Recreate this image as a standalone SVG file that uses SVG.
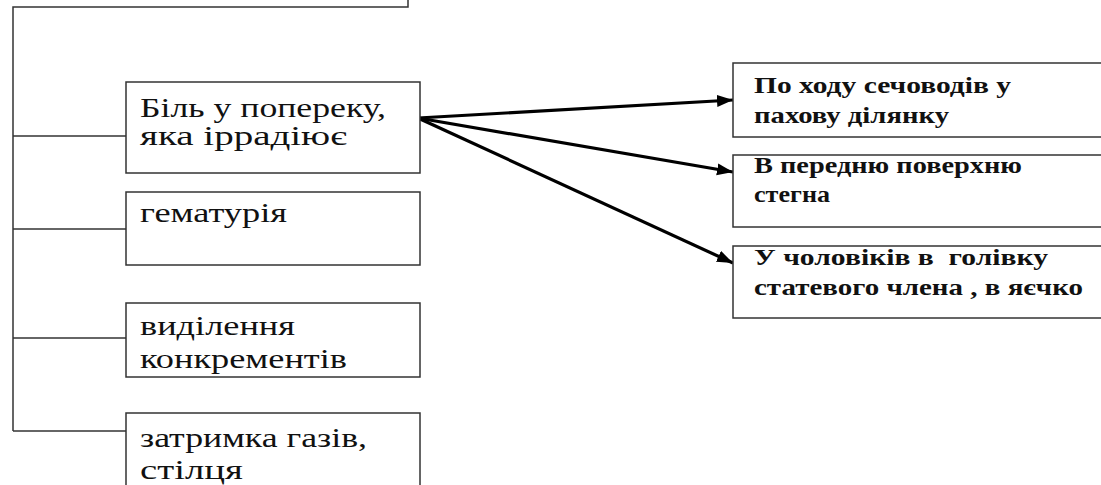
<svg xmlns="http://www.w3.org/2000/svg" width="1101" height="485" viewBox="0 0 1101 485">
<style>
.box{fill:#fff;stroke:#333;stroke-width:1.5}
.ln{fill:none;stroke:#333;stroke-width:1.5}
.ar{fill:none;stroke:#000;stroke-width:3.2}
.t{font-size:27px;fill:#111}
.b{font-size:23px;font-weight:bold;fill:#111}
</style>
<defs>
<marker id="ah" markerUnits="userSpaceOnUse" markerWidth="18" markerHeight="14" refX="16" refY="6" orient="auto">
<path d="M0,0 L16,6 L0,12 Z" fill="#000"/>
</marker>
</defs>
<g id="connectors">
<polyline class="ln" points="408,0 408,7 13,7 13,431"/>
<line class="ln" x1="13" y1="136" x2="126" y2="136"/>
<line class="ln" x1="13" y1="229" x2="126" y2="229"/>
<line class="ln" x1="13" y1="338" x2="126" y2="338"/>
<line class="ln" x1="13" y1="431" x2="126" y2="431"/>
<line class="ar" x1="418" y1="118" x2="733" y2="100" marker-end="url(#ah)"/>
<line class="ar" x1="418" y1="118" x2="733" y2="172" marker-end="url(#ah)"/>
<line class="ar" x1="418" y1="118" x2="733" y2="263" marker-end="url(#ah)"/>
</g>
<g font-family="'Liberation Serif', 'DejaVu Serif', serif">
<g id="n1">
<rect class="box" x="126" y="82" width="294" height="91"/>
<text class="t" x="140" y="117" textLength="246" lengthAdjust="spacingAndGlyphs">Біль у попереку,</text>
<text class="t" x="140" y="145" textLength="207" lengthAdjust="spacingAndGlyphs">яка іррадіює</text>
</g>
<g id="n2">
<rect class="box" x="126" y="192" width="294" height="73"/>
<text class="t" x="140" y="222" textLength="147" lengthAdjust="spacingAndGlyphs">гематурія</text>
</g>
<g id="n3">
<rect class="box" x="126" y="303" width="294" height="74"/>
<text class="t" x="140" y="335" textLength="155" lengthAdjust="spacingAndGlyphs">виділення</text>
<text class="t" x="140" y="368" textLength="207" lengthAdjust="spacingAndGlyphs">конкрементів</text>
</g>
<g id="n4">
<rect class="box" x="126" y="413" width="294" height="80"/>
<text class="t" x="140" y="447" textLength="227" lengthAdjust="spacingAndGlyphs">затримка газів,</text>
<text class="t" x="140" y="479" textLength="103" lengthAdjust="spacingAndGlyphs">стілця</text>
</g>
<g id="r1">
<rect class="box" x="733" y="63" width="380" height="74"/>
<text class="b" x="754" y="93" textLength="257" lengthAdjust="spacingAndGlyphs">По ходу сечоводів у</text>
<text class="b" x="754" y="123" textLength="195" lengthAdjust="spacingAndGlyphs">пахову ділянку</text>
</g>
<g id="r2">
<rect class="box" x="733" y="155" width="380" height="72"/>
<text class="b" x="754" y="173" textLength="268" lengthAdjust="spacingAndGlyphs">В передню поверхню</text>
<text class="b" x="754" y="202" textLength="76" lengthAdjust="spacingAndGlyphs">стегна</text>
</g>
<g id="r3">
<rect class="box" x="733" y="246" width="380" height="72"/>
<text class="b" x="754" y="265" textLength="294" lengthAdjust="spacingAndGlyphs" xml:space="preserve">У чоловіків в  голівку</text>
<text class="b" x="754" y="295" textLength="329" lengthAdjust="spacingAndGlyphs">статевого члена , в яєчко</text>
</g>
</g>
</svg>
